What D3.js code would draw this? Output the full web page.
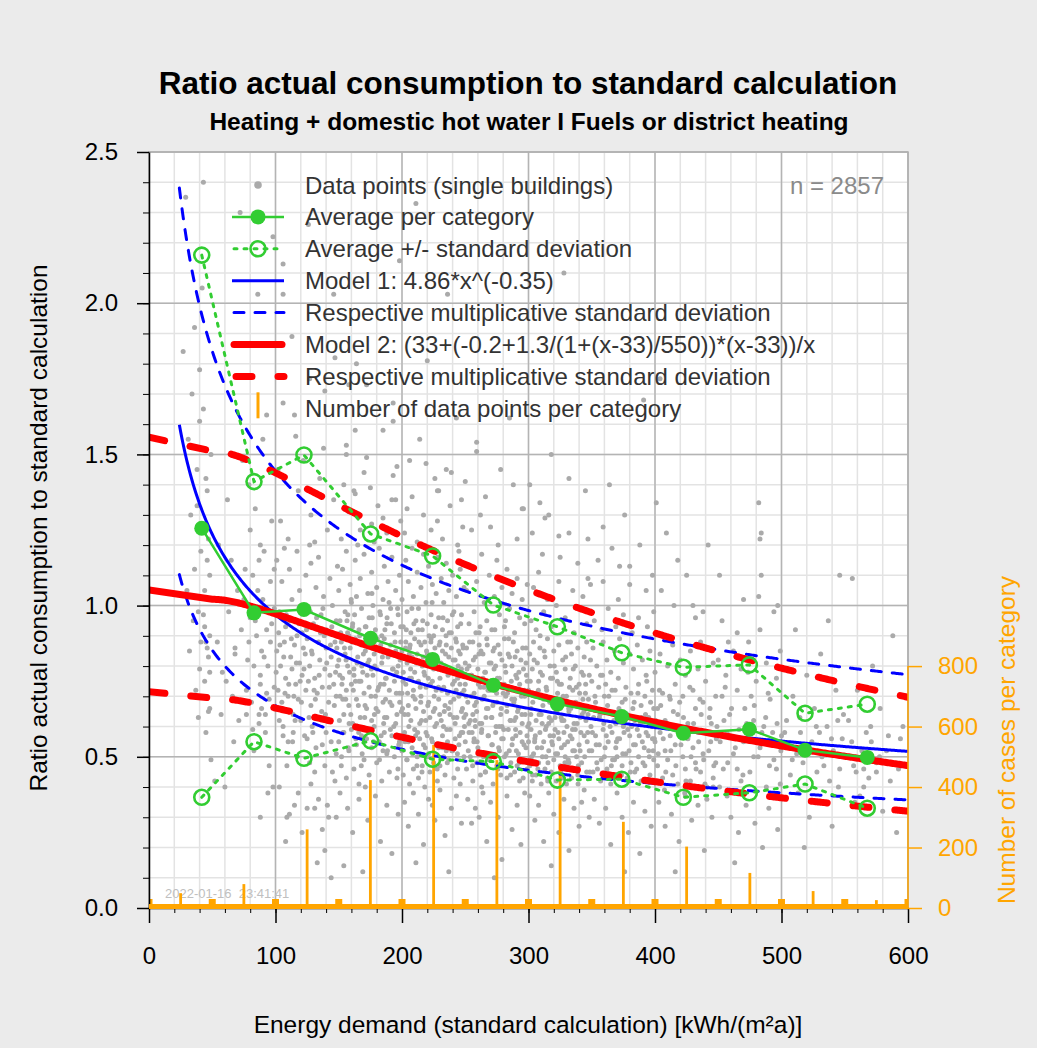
<!DOCTYPE html>
<html>
<head>
<meta charset="utf-8">
<script src="https://cdn.jsdelivr.net/npm/d3@7"></script>
<style>
body{margin:0;background:#fff}
text{font-family:"Liberation Sans",Arial,Helvetica,sans-serif}
</style>
</head>
<body>
<script>
// ---- data ----
var xTicks = [0,100,200,300,400,500,600];
var yTicks = [0,0.5,1,1.5,2,2.5];
var countTicks = [0,200,400,600,800];

// categories of 50 kWh/(m2a), bars at the category middle
var catBounds = [0,50,100,150,200,250,300,350,400,450,500,550,600];
var catMid = [25,75,125,175,225,275,325,375,425,475,525,575];
var catCount = [49,79,260,423,539,489,460,285,203,116,56,26];

// average per category (x = mean of category)
var avgX = [41.7,83,122.5,175.2,224.2,272.2,322.8,373.7,422.4,474.6,518.6,567.8];
var avgY = [1.256,0.976,0.987,0.892,0.822,0.737,0.675,0.633,0.578,0.591,0.522,0.498];
var sdUpY = [2.159,1.41,1.498,1.237,1.164,1.002,0.93,0.844,0.796,0.804,0.644,0.674];
var sdLoY = [0.366,0.55,0.495,0.553,0.492,0.484,0.423,0.426,0.366,0.381,0.41,0.33];

// model 1: a*x^b ; factors of the multiplicative sd band
var model1 = [4.86,-0.35];
var model1Band = [1.49,0.69];
// model 2: (c+(k1+k2/(1+(x-c)/s))*(x-c))/x ; left end value at x=0
var model2 = [33,-0.2,1.3,550];
var model2Band = [1.48,0.68];
var model2Left = [0,1.052];

var nLabel = "n = 2857";

// single buildings [energy demand, ratio]
var points = [
[27,1.84],[29,2.35],[43,2.40],[40,1.78],[43,1.65],[40,1.61],[44,0.93],[45,0.88],[46,0.86],[47,0.83],[48,0.90],[40,0.79],[48,0.66],[47,0.65],[39,0.63],[49,0.49],[33,1.30],[36,1.12],[38,1.45],[42,1.25],[44,1.05],[35,0.95],[31,1.55],[46,1.38],[41,1.18],[47,1.02],[37,0.72],[45,0.58],[32,0.85],[49,1.50],[42,2.05],[34,1.70],[47,1.22],[44,0.75],[30,1.05],[39,0.98],[48,1.10],[45,1.42],[41,0.88],[36,1.92],[46,1.15],[43,0.97],[48,0.78],[38,1.33],
[52,0.42],[57,0.64],[60,0.40],[63,0.98],[68,0.86],[68,0.84],[72,2.30],[55,1.20],[58,0.78],[62,1.35],[66,0.70],[70,1.05],[73,0.92],[54,0.88],[65,1.15],[71,0.62],[74,1.48],[59,1.02],[67,0.55],[61,0.75],[78,0.82],[77,0.72],[88,0.77],[88,0.74],[77,0.64],[87,0.64],[87,0.61],[92,0.64],[88,0.30],[94,0.38],[98,0.40],[95,0.47],[98,2.22],[86,2.03],[93,1.63],[80,1.25],[82,1.10],[84,0.95],[90,1.02],[96,0.88],[79,1.40],[91,1.18],[99,0.99],[83,0.52],[89,0.85],[93,0.92],[97,1.28],[81,0.68],[86,1.05],[94,0.80],[76,1.12],[90,1.55],[99,0.73],[85,0.90],[92,0.58],[80,0.96],[96,1.08],[88,1.20],[83,0.80],[95,0.69],[91,0.83],[84,1.32],[97,0.94],[79,0.88],[87,1.15],[93,0.71],[99,1.12],[82,0.59],[89,0.66],[75,1.02],
[109,0.30],[111,0.31],[115,0.34],[108,0.22],[125,0.33],[131,0.33],[133,0.15],[144,0.10],[137,0.26],[142,0.30],[145,0.45],[147,0.42],[141,0.34],[109,0.47],[123,0.57],[125,0.56],[137,0.54],[144,0.55],[106,0.57],[106,0.60],[112,0.65],[114,0.64],[106,2.13],[106,2.03],[126,2.26],[113,1.89],[127,1.75],[139,1.71],[106,1.67],[115,1.63],[146,2.03],[147,1.82],
[102,1.45],[118,1.38],[128,1.30],[135,1.42],[141,1.25],[110,1.22],[122,1.48],[131,1.21],[146,1.35],[104,1.28],[138,1.52],[116,1.56],
[101,1.15],[103,0.98],[105,1.08],[108,0.93],[111,1.12],[113,1.02],[116,0.95],[117,1.18],[119,1.05],[121,0.91],[124,1.10],[126,0.99],[128,1.14],[130,0.94],[132,1.06],[134,1.16],[136,0.97],[138,1.03],[140,0.92],[143,1.09],[145,1.00],[148,0.95],[149,1.13],[120,1.00],[107,1.19],[127,1.20],
[101,0.85],[102,0.72],[104,0.80],[105,0.68],[107,0.88],[108,0.76],[110,0.70],[112,0.83],[113,0.79],[115,0.87],[116,0.74],[118,0.69],[119,0.81],[121,0.77],[122,0.86],[124,0.72],[125,0.89],[127,0.80],[128,0.67],[129,0.84],[131,0.76],[133,0.71],[134,0.88],[135,0.82],[137,0.73],[139,0.79],[140,0.86],[142,0.68],[143,0.77],[144,0.83],[146,0.74],[147,0.88],[148,0.70],[149,0.80],[126,0.75],[117,0.90],
[103,0.62],[110,0.55],[117,0.50],[120,0.62],[127,0.48],[129,0.60],[132,0.53],[135,0.63],[139,0.47],[140,0.58],[143,0.62],[148,0.51],[114,0.58],[131,0.45],
[118,0.38],[121,0.25],[128,0.41],[134,0.36],[139,0.19],[148,0.30],[103,0.40],
[163,1.58],[185,1.58],[193,1.61],[156,1.53],[156,1.50],[164,1.80],[158,1.73],[172,1.73],[198,2.14],[172,1.49],[193,1.67],[196,1.46],[193,1.43],[185,1.29],[192,1.35],[195,1.35],[162,1.38],[163,1.37],[175,1.39],
[152,1.22],[158,1.31],[167,1.25],[170,1.44],[178,1.21],[181,1.33],[188,1.24],[199,1.28],[154,1.40],[176,1.27],
[150,1.05],[151,0.95],[153,1.12],[155,0.98],[156,1.18],[157,0.91],[159,1.07],[160,1.01],[161,0.94],[163,1.15],[164,1.03],[166,0.92],[167,1.09],[168,0.99],[170,1.17],[171,0.93],[173,1.04],[174,0.96],[176,1.11],[177,1.00],[179,0.92],[180,1.06],[182,1.19],[183,0.97],[185,1.02],[186,1.13],[188,0.94],[189,1.08],[191,0.99],[192,1.16],[194,0.91],[195,1.05],[197,0.97],[198,1.10],[199,0.93],[165,1.20],[184,0.90],
[150,0.82],[151,0.70],[152,0.88],[153,0.76],[154,0.64],[155,0.84],[156,0.72],[157,0.80],[158,0.67],[159,0.86],[160,0.74],[161,0.61],[162,0.79],[163,0.89],[164,0.69],[165,0.83],[166,0.75],[167,0.63],[168,0.87],[169,0.78],[170,0.71],[171,0.85],[172,0.66],[173,0.81],[174,0.73],[175,0.88],[176,0.62],[177,0.77],[178,0.84],[179,0.70],[180,0.79],[181,0.65],[182,0.86],[183,0.74],[184,0.81],[185,0.68],[186,0.89],[187,0.76],[188,0.63],[189,0.83],[190,0.72],[191,0.87],[192,0.67],[193,0.79],[194,0.75],[195,0.85],[196,0.64],[197,0.80],[198,0.71],[199,0.88],[162,0.77],[174,0.82],[187,0.69],[158,0.90],[195,0.61],
[150,0.55],[152,0.47],[154,0.58],[156,0.43],[158,0.52],[160,0.59],[162,0.46],[164,0.54],[166,0.41],[168,0.57],[170,0.49],[172,0.56],[174,0.44],[176,0.53],[178,0.60],[180,0.48],[182,0.55],[184,0.42],[186,0.58],[188,0.51],[190,0.45],[192,0.57],[194,0.50],[196,0.43],[198,0.55],[171,0.40],[185,0.52],
[151,0.38],[154,0.14],[157,0.33],[161,0.25],[166,0.36],[173,0.29],[179,0.37],[183,0.22],[188,0.34],[192,0.18],[197,0.31],[169,0.12],
[211,2.33],[236,2.03],[220,1.81],[206,1.48],[219,1.47],[235,1.45],[239,1.44],[250,1.41],[229,1.38],[228,1.38],[204,1.32],[228,1.28],[248,1.26],[214,1.55],[243,1.62],
[202,1.24],[208,1.36],[212,1.21],[217,1.30],[223,1.25],[232,1.22],[238,1.33],[244,1.20],[247,1.35],[226,1.42],
[200,1.02],[201,0.93],[203,1.15],[204,0.98],[205,1.08],[207,0.91],[208,1.19],[209,1.03],[211,0.95],[212,1.11],[213,0.99],[215,1.06],[216,0.92],[217,1.17],[219,1.01],[220,0.94],[221,1.13],[223,0.97],[224,1.07],[225,0.90],[227,1.04],[228,1.16],[229,0.96],[231,1.09],[232,0.92],[233,1.01],[235,1.14],[236,0.95],[237,1.05],[239,0.91],[240,1.10],[241,0.98],[243,1.03],[244,0.93],[246,1.12],[247,0.97],[249,1.06],[245,1.18],
[200,0.85],[200,0.71],[201,0.78],[202,0.64],[203,0.88],[203,0.74],[204,0.81],[205,0.67],[206,0.86],[206,0.76],[207,0.62],[208,0.83],[209,0.72],[210,0.89],[210,0.78],[211,0.66],[212,0.84],[213,0.75],[214,0.61],[215,0.87],[215,0.70],[216,0.80],[217,0.65],[218,0.88],[218,0.77],[219,0.73],[220,0.84],[221,0.68],[222,0.81],[222,0.63],[223,0.89],[224,0.75],[225,0.79],[226,0.66],[226,0.86],[227,0.72],[228,0.82],[229,0.69],[230,0.88],[230,0.76],[231,0.62],[232,0.85],[233,0.73],[234,0.80],[234,0.67],[235,0.87],[236,0.71],[237,0.83],[238,0.64],[238,0.78],[239,0.86],[240,0.74],[241,0.69],[242,0.82],[242,0.61],[243,0.88],[244,0.76],[245,0.70],[246,0.84],[247,0.65],[247,0.79],[248,0.87],[249,0.72],[249,0.63],[250,0.81],
[200,0.52],[201,0.44],[202,0.58],[204,0.49],[205,0.55],[206,0.41],[208,0.53],[209,0.46],[210,0.59],[212,0.50],[213,0.43],[214,0.56],[216,0.47],[217,0.54],[218,0.40],[220,0.57],[221,0.51],[222,0.45],[224,0.55],[225,0.48],[226,0.60],[228,0.42],[229,0.53],[230,0.47],[232,0.57],[233,0.50],[234,0.44],[236,0.55],[237,0.49],[238,0.59],[240,0.52],[241,0.43],[242,0.56],[244,0.46],[245,0.54],[246,0.41],[248,0.58],[249,0.50],[219,0.58],[235,0.52],
[202,0.35],[205,0.27],[209,0.38],[213,0.31],[217,0.21],[221,0.36],[226,0.29],[230,0.39],[234,0.24],[239,0.33],[243,0.37],[247,0.28],[211,0.15],[237,0.12],[224,0.34],
[259,1.54],[259,1.51],[266,1.36],[295,1.32],[270,1.26],[291,1.22],[296,1.32],[278,1.45],[285,1.62],[262,1.30],[288,1.40],[255,1.25],
[251,1.05],[253,0.94],[255,1.13],[257,0.98],[259,1.08],[261,0.91],[263,1.17],[265,1.01],[267,0.95],[269,1.10],[271,0.92],[273,1.03],[275,1.15],[277,0.97],[279,1.06],[281,0.93],[283,1.12],[285,0.99],[287,1.04],[289,0.91],[291,1.09],[293,0.96],[295,1.02],[297,0.94],[299,1.07],[276,1.20],
[250,0.74],[251,0.86],[252,0.68],[253,0.80],[254,0.62],[255,0.77],[256,0.88],[257,0.71],[258,0.83],[259,0.65],[260,0.79],[261,0.87],[262,0.73],[263,0.61],[264,0.84],[265,0.70],[266,0.78],[267,0.89],[268,0.66],[269,0.81],[270,0.75],[271,0.63],[272,0.85],[273,0.72],[274,0.80],[275,0.68],[276,0.87],[277,0.76],[278,0.64],[279,0.82],[280,0.71],[281,0.89],[282,0.78],[283,0.67],[284,0.84],[285,0.73],[286,0.62],[287,0.80],[288,0.88],[289,0.69],[290,0.77],[291,0.85],[292,0.66],[293,0.74],[294,0.82],[295,0.61],[296,0.79],[297,0.70],[298,0.86],[299,0.75],[256,0.64],[264,0.76],[273,0.86],[282,0.70],[290,0.63],[298,0.81],[268,0.72],[285,0.83],
[250,0.55],[251,0.46],[253,0.58],[254,0.50],[256,0.42],[257,0.56],[259,0.48],[260,0.53],[262,0.44],[263,0.59],[265,0.51],[266,0.45],[268,0.57],[269,0.49],[271,0.54],[272,0.41],[274,0.58],[275,0.47],[277,0.52],[278,0.44],[280,0.56],[281,0.50],[283,0.43],[284,0.59],[286,0.48],[287,0.54],[289,0.45],[290,0.57],[292,0.51],[293,0.42],[295,0.55],[296,0.49],[298,0.53],[299,0.46],[263,0.40],[279,0.60],[291,0.47],[258,0.60],
[252,0.36],[255,0.28],[258,0.33],[264,0.38],[267,0.22],[270,0.35],[276,0.30],[279,0.16],[283,0.37],[287,0.26],[291,0.34],[294,0.21],[297,0.38],[273,0.10],[261,0.30],
[328,2.10],[318,1.50],[332,1.42],[301,1.40],[345,1.38],[309,1.34],[313,1.29],[303,1.24],[332,1.24],[324,1.23],[347,1.22],[311,1.17],[325,1.16],[339,1.14],[308,1.11],[324,1.08],[349,1.07],[335,1.05],[304,1.06],[347,1.09],[316,1.30],
[302,0.95],[306,0.92],[312,0.98],[318,0.93],[322,1.00],[329,0.96],[336,0.91],[341,0.99],[346,0.94],[315,1.02],[343,1.03],
[300,0.72],[301,0.84],[302,0.66],[303,0.79],[304,0.88],[305,0.70],[306,0.62],[307,0.81],[308,0.75],[309,0.86],[310,0.64],[311,0.77],[312,0.69],[313,0.83],[314,0.73],[315,0.89],[316,0.61],[317,0.80],[318,0.68],[319,0.76],[320,0.85],[321,0.63],[322,0.78],[323,0.71],[324,0.87],[325,0.66],[326,0.74],[327,0.82],[328,0.62],[329,0.79],[330,0.70],[331,0.88],[332,0.65],[333,0.76],[334,0.84],[335,0.72],[336,0.61],[337,0.80],[338,0.67],[339,0.86],[340,0.74],[341,0.63],[342,0.78],[343,0.69],[344,0.83],[345,0.71],[346,0.88],[347,0.64],[348,0.77],[349,0.82],
[300,0.55],[301,0.47],[302,0.59],[303,0.42],[304,0.51],[305,0.56],[306,0.44],[307,0.53],[308,0.48],[309,0.58],[310,0.41],[311,0.50],[312,0.55],[313,0.46],[314,0.60],[315,0.43],[316,0.52],[317,0.57],[318,0.45],[319,0.54],[320,0.49],[321,0.59],[322,0.42],[323,0.51],[324,0.56],[325,0.47],[326,0.53],[327,0.44],[328,0.58],[329,0.50],[330,0.41],[331,0.55],[332,0.48],[333,0.57],[334,0.43],[335,0.52],[336,0.46],[337,0.59],[338,0.50],[339,0.44],[340,0.54],[342,0.48],[344,0.57],[346,0.45],[348,0.52],
[301,0.37],[305,0.29],[308,0.34],[312,0.22],[316,0.38],[320,0.31],[324,0.25],[328,0.36],[332,0.19],[336,0.33],[340,0.27],[344,0.39],[348,0.30],[318,0.14],[342,0.35],
[391,1.68],[359,1.26],[366,1.19],[388,1.20],[372,1.13],[380,1.13],[359,1.08],[380,1.07],[393,1.05],[355,1.15],[376,1.30],[398,1.10],[364,1.40],
[352,0.95],[358,0.92],[363,0.99],[369,0.93],[375,0.97],[382,0.91],[387,0.96],[394,0.93],[399,0.98],[371,1.02],
[350,0.75],[351,0.86],[353,0.68],[354,0.80],[356,0.63],[357,0.77],[359,0.88],[360,0.70],[362,0.82],[363,0.65],[365,0.78],[366,0.72],[368,0.85],[369,0.61],[371,0.76],[372,0.89],[374,0.68],[375,0.81],[377,0.73],[378,0.64],[380,0.84],[381,0.71],[383,0.79],[384,0.62],[386,0.87],[387,0.74],[389,0.67],[390,0.82],[392,0.70],[393,0.77],[395,0.63],[396,0.85],[398,0.72],[399,0.66],[361,0.74],
[350,0.52],[351,0.45],[353,0.57],[354,0.48],[356,0.54],[357,0.42],[359,0.59],[360,0.50],[362,0.46],[363,0.55],[365,0.41],[366,0.58],[368,0.49],[369,0.53],[371,0.44],[372,0.56],[374,0.47],[375,0.60],[377,0.51],[378,0.43],[380,0.57],[381,0.48],[383,0.54],[384,0.45],[386,0.59],[387,0.50],[389,0.42],[390,0.55],[392,0.47],[393,0.58],[395,0.52],[396,0.44],[398,0.56],[399,0.49],[370,0.50],
[352,0.36],[356,0.28],[361,0.33],[365,0.21],[370,0.38],[374,0.30],[379,0.25],[383,0.35],[388,0.18],[392,0.32],[397,0.27],[376,0.12],
[404,1.75],[401,1.34],[409,1.24],[418,1.15],[438,0.98],[432,0.96],[430,1.00],[415,1.00],[405,1.05],[425,1.10],[442,1.20],
[400,0.78],[402,0.66],[404,0.84],[406,0.71],[408,0.62],[410,0.80],[412,0.69],[414,0.87],[416,0.74],[418,0.64],[420,0.82],[422,0.70],[424,0.77],[426,0.61],[428,0.85],[430,0.72],[432,0.66],[434,0.79],[436,0.88],[438,0.68],[440,0.75],[443,0.63],[446,0.81],[448,0.70],
[400,0.55],[402,0.47],[404,0.58],[406,0.43],[408,0.52],[410,0.49],[412,0.57],[414,0.44],[416,0.54],[418,0.41],[420,0.59],[422,0.50],[424,0.46],[426,0.56],[428,0.42],[430,0.53],[432,0.48],[434,0.58],[436,0.45],[438,0.51],[441,0.40],[446,0.43],[444,0.55],[448,0.48],[449,0.60],
[441,0.36],[446,0.40],[403,0.35],[408,0.27],[413,0.31],[419,0.22],[424,0.37],[429,0.29],[434,0.34],[439,0.19],[445,0.30],[416,0.12],
[482,1.34],[484,1.24],[483,1.22],[484,1.10],[451,1.10],[482,1.03],[494,0.98],[453,0.95],[465,0.91],[483,0.92],[497,1.00],[470,1.02],
[450,0.82],[453,0.70],[456,0.77],[459,0.64],[462,0.85],[465,0.72],[468,0.79],[471,0.66],[474,0.88],[478,0.62],[486,0.60],[493,0.58],[500,0.57],[480,0.75],[488,0.81],[491,0.69],[496,0.76],[499,0.85],[458,0.88],[476,0.70],
[496,0.46],[499,0.41],[488,0.40],[475,0.45],[478,0.50],[494,0.49],[465,0.46],[462,0.51],[454,0.46],[451,0.40],[470,0.55],[483,0.53],[457,0.58],[468,0.42],
[457,0.37],[460,0.30],[466,0.25],[472,0.34],[479,0.28],[485,0.20],[490,0.33],[497,0.26],[463,0.15],
[503,0.53],[512,0.51],[532,0.50],[517,0.48],[541,0.52],[538,0.42],[546,0.46],[546,1.10],[504,0.62],[509,0.70],[515,0.58],[520,0.77],[526,0.66],[531,0.84],[536,0.60],[543,0.72],[548,0.56],[507,0.44],[513,0.38],[522,0.30],[528,0.45],[534,0.35],[540,0.27],[545,0.40],[511,0.92],[524,0.55],[537,0.95],[549,0.64],[518,0.20],[530,0.58],
[557,0.47],[565,0.46],[559,0.45],[569,0.43],[565,0.40],[575,0.48],[575,0.45],[562,0.37],[558,0.35],[556,1.09],[553,0.62],[560,0.72],[567,0.58],[572,0.80],[578,0.66],[583,0.52],[588,0.90],[594,0.56],[598,0.70],[580,0.32],[586,0.42],[591,0.25],[596,0.60],[571,0.55],
// dense core of the cloud
[100.5,0.78],[102.5,0.91],[104.5,0.66],[106.5,0.83],[108.5,0.97],[110.5,0.74],[112.5,0.89],[114.5,0.70],[116.5,0.81],[118.5,0.94],[120.5,0.68],[122.5,0.79],[124.5,0.92],[126.5,0.63],[128.5,0.85],[130.5,0.72],[132.5,0.96],[134.5,0.77],[136.5,0.65],[138.5,0.90],[140.5,0.81],[142.5,0.73],[144.5,0.93],[146.5,0.67],[148.5,0.86],[103.5,0.87],[107.5,0.71],[111.5,0.95],[115.5,0.62],[119.5,0.75],[123.5,0.84],[127.5,0.98],[131.5,0.69],[135.5,0.91],[139.5,0.64],[143.5,0.87],[147.5,0.78],[129.5,0.58],[113.5,0.55],[137.5,0.99],
[150.5,0.62],[151.5,0.91],[152.5,0.74],[153.5,0.58],[154.5,0.86],[155.5,0.69],[156.5,0.95],[157.5,0.53],[158.5,0.78],[159.5,0.64],[160.5,0.88],[161.5,0.72],[162.5,0.97],[163.5,0.56],[164.5,0.81],[165.5,0.67],[166.5,0.90],[167.5,0.75],[168.5,0.51],[169.5,0.84],[170.5,0.63],[171.5,0.93],[172.5,0.77],[173.5,0.59],[174.5,0.87],[175.5,0.70],[176.5,0.96],[177.5,0.55],[178.5,0.80],[179.5,0.66],[180.5,0.89],[181.5,0.73],[182.5,0.98],[183.5,0.57],[184.5,0.83],[185.5,0.61],[186.5,0.92],[187.5,0.76],[188.5,0.52],[189.5,0.85],[190.5,0.68],[191.5,0.94],[192.5,0.79],[193.5,0.60],[194.5,0.88],[195.5,0.71],[196.5,0.99],[197.5,0.54],[198.5,0.82],[199.5,0.65],
[150.8,0.77],[153.2,0.69],[155.8,0.82],[158.2,0.61],[160.8,0.93],[163.2,0.75],[165.8,0.58],[168.2,0.80],[170.8,0.67],[173.2,0.90],[175.8,0.79],[178.2,0.64],[180.8,0.72],[183.2,0.87],[185.8,0.74],[188.2,0.96],[190.8,0.59],[193.2,0.84],[195.8,0.78],[198.2,0.68],[152.2,0.50],[167.8,0.47],[182.2,0.49],[196.8,0.46],[159.8,1.02],[176.2,1.04],[189.8,1.01],[171.2,0.56],[186.2,0.63],[157.2,0.97],
[200.4,0.66],[201.4,0.83],[202.4,0.55],[203.4,0.92],[204.4,0.71],[205.4,0.60],[206.4,0.87],[207.4,0.76],[208.4,0.51],[209.4,0.94],[210.4,0.69],[211.4,0.81],[212.4,0.58],[213.4,0.88],[214.4,0.73],[215.4,0.62],[216.4,0.95],[217.4,0.78],[218.4,0.53],[219.4,0.85],[220.4,0.67],[221.4,0.90],[222.4,0.74],[223.4,0.56],[224.4,0.83],[225.4,0.70],[226.4,0.93],[227.4,0.61],[228.4,0.79],[229.4,0.87],[230.4,0.54],[231.4,0.72],[232.4,0.96],[233.4,0.65],[234.4,0.84],[235.4,0.59],[236.4,0.77],[237.4,0.91],[238.4,0.68],[239.4,0.52],[240.4,0.82],[241.4,0.75],[242.4,0.89],[243.4,0.63],[244.4,0.80],[245.4,0.57],[246.4,0.94],[247.4,0.71],[248.4,0.86],[249.4,0.60],
[200.8,0.75],[202.8,0.86],[204.8,0.64],[206.8,0.79],[208.8,0.70],[210.8,0.57],[212.8,0.92],[214.8,0.68],[216.8,0.83],[218.8,0.62],[220.8,0.76],[222.8,0.88],[224.8,0.65],[226.8,0.54],[228.8,0.73],[230.8,0.81],[232.8,0.60],[234.8,0.90],[236.8,0.66],[238.8,0.78],[240.8,0.63],[242.8,0.72],[244.8,0.85],[246.8,0.58],[248.8,0.77],[203.8,0.49],[211.8,0.47],[219.8,0.50],[227.8,0.46],[235.8,0.48],[243.8,0.51],[207.8,0.99],[223.8,1.01],[239.8,0.97],[215.8,0.45],[231.8,0.53],[247.8,0.66],[205.8,0.84],[229.8,0.64],[245.8,0.74],
[250.4,0.64],[251.4,0.79],[252.4,0.52],[253.4,0.88],[254.4,0.70],[255.4,0.58],[256.4,0.82],[257.4,0.67],[258.4,0.91],[259.4,0.55],[260.4,0.74],[261.4,0.61],[262.4,0.85],[263.4,0.69],[264.4,0.50],[265.4,0.78],[266.4,0.63],[267.4,0.87],[268.4,0.57],[269.4,0.72],[270.4,0.81],[271.4,0.54],[272.4,0.68],[273.4,0.92],[274.4,0.60],[275.4,0.76],[276.4,0.53],[277.4,0.84],[278.4,0.66],[279.4,0.73],[280.4,0.59],[281.4,0.80],[282.4,0.51],[283.4,0.71],[284.4,0.89],[285.4,0.62],[286.4,0.75],[287.4,0.56],[288.4,0.68],[289.4,0.83],[290.4,0.52],[291.4,0.65],[292.4,0.78],[293.4,0.58],[294.4,0.70],[295.4,0.86],[296.4,0.54],[297.4,0.64],[298.4,0.77],[299.4,0.60],
[250.8,0.70],[252.8,0.61],[254.8,0.77],[256.8,0.55],[258.8,0.68],[260.8,0.84],[262.8,0.58],[264.8,0.73],[266.8,0.66],[268.8,0.49],[270.8,0.63],[272.8,0.79],[274.8,0.71],[276.8,0.60],[278.8,0.56],[280.8,0.74],[282.8,0.65],[284.8,0.52],[286.8,0.69],[288.8,0.62],[290.8,0.76],[292.8,0.48],[294.8,0.64],[296.8,0.72],[298.8,0.57],[255.8,0.47],[265.8,0.45],[275.8,0.46],[285.8,0.44],[295.8,0.43],[261.8,0.93],[281.8,0.95],[271.8,0.67],[289.8,0.59],[257.8,0.62],
[300.4,0.61],[301.4,0.75],[302.4,0.50],[303.4,0.68],[304.4,0.82],[305.4,0.57],[306.4,0.71],[307.4,0.46],[308.4,0.64],[309.4,0.78],[310.4,0.53],[311.4,0.67],[312.4,0.85],[313.4,0.59],[314.4,0.72],[315.4,0.48],[316.4,0.63],[317.4,0.76],[318.4,0.55],[319.4,0.69],[320.4,0.80],[321.4,0.51],[322.4,0.65],[323.4,0.58],[324.4,0.74],[325.4,0.45],[326.4,0.62],[327.4,0.70],[328.4,0.54],[329.4,0.83],[330.4,0.60],[331.4,0.49],[332.4,0.73],[333.4,0.66],[334.4,0.56],[335.4,0.79],[336.4,0.52],[337.4,0.68],[338.4,0.61],[339.4,0.47],[340.4,0.71],[341.4,0.58],[342.4,0.64],[343.4,0.77],[344.4,0.50],[345.4,0.62],[346.4,0.55],[347.4,0.69],[348.4,0.45],[349.4,0.60],
[301.8,0.64],[304.8,0.55],[307.8,0.72],[310.8,0.61],[313.8,0.50],[316.8,0.68],[319.8,0.57],[322.8,0.75],[325.8,0.63],[328.8,0.48],[331.8,0.66],[334.8,0.59],[337.8,0.73],[340.8,0.52],[343.8,0.65],[346.8,0.58],[303.2,0.44],[315.2,0.42],[327.2,0.43],[339.2,0.41],[309.2,0.90],[333.2,0.88],[321.2,0.67],[345.2,0.74],[318.2,0.62],
[350.5,0.58],[352.5,0.70],[354.5,0.46],[356.5,0.64],[358.5,0.77],[360.5,0.53],[362.5,0.67],[364.5,0.60],[366.5,0.49],[368.5,0.72],[370.5,0.56],[372.5,0.63],[374.5,0.51],[376.5,0.69],[378.5,0.59],[380.5,0.45],[382.5,0.66],[384.5,0.54],[386.5,0.71],[388.5,0.61],[390.5,0.48],[392.5,0.64],[394.5,0.57],[396.5,0.68],[398.5,0.52],
[351.5,0.63],[353.5,0.54],[355.5,0.73],[357.5,0.49],[359.5,0.61],[361.5,0.57],[363.5,0.70],[365.5,0.47],[367.5,0.62],[369.5,0.55],[371.5,0.66],[373.5,0.44],[375.5,0.58],[377.5,0.64],[379.5,0.52],[381.5,0.60],[383.5,0.68],[385.5,0.46],[387.5,0.57],[389.5,0.63],[391.5,0.53],[393.5,0.75],[395.5,0.50],[397.5,0.60],[399.5,0.56],
[400.5,0.62],[402.5,0.51],[404.5,0.67],[406.5,0.56],[408.5,0.45],[410.5,0.60],[412.5,0.52],[414.5,0.65],[416.5,0.47],[418.5,0.58],[420.5,0.54],[422.5,0.63],[424.5,0.42],[426.5,0.57],[428.5,0.50],[430.5,0.61],[432.5,0.46],[434.5,0.55],[436.5,0.64],[438.5,0.49],[440.5,0.58],[442.5,0.52],[444.5,0.61],[446.5,0.47],[448.5,0.56],
[403.5,0.72],[411.5,0.70],[419.5,0.68],[427.5,0.73],[435.5,0.69],[443.5,0.66],[407.5,0.39],[423.5,0.38],[439.5,0.41],[415.5,0.60],
[451.5,0.55],[454.5,0.62],[457.5,0.48],[460.5,0.66],[463.5,0.53],[466.5,0.59],[469.5,0.44],[472.5,0.61],[475.5,0.55],[478.5,0.67],[481.5,0.50],[484.5,0.58],[487.5,0.63],[490.5,0.47],[493.5,0.54],[496.5,0.61],[499.5,0.52],[455.5,0.73],[473.5,0.78],[489.5,0.71],
[502.5,0.58],[508.5,0.49],[514.5,0.63],[521.5,0.54],[527.5,0.60],[533.5,0.47],[539.5,0.56],[544.5,0.62],[549.5,0.50],[555.5,0.55],[563.5,0.52],[570.5,0.60],[577.5,0.50],[584.5,0.57],[592.5,0.46]
];

var legendItems = [
  "Data points (single buildings)",
  "Average per category",
  "Average +/- standard deviation",
  "Model 1: 4.86*x^(-0.35)",
  "Respective multiplicative standard deviation",
  "Model 2: (33+(-0.2+1.3/(1+(x-33)/550))*(x-33))/x",
  "Respective multiplicative standard deviation",
  "Number of data points per category"
];

// ---- drawing ----
var width = 1037, height = 1048;
var pL = 149, pR = 908, pT = 152, pB = 908;
var GREEN = "#32cd32", BLUE = "#0000ff", RED = "#ff0000", ORANGE = "#ffa500", GREY = "#aaaaaa";
var DOTS = "3,7";

var svg = d3.select("body").append("svg").attr("width", width).attr("height", height);

svg.append("rect").attr("width", width).attr("height", height).attr("fill", "#ebebeb");
svg.append("rect").attr("x", pL).attr("y", pT).attr("width", pR-pL).attr("height", pB-pT).attr("fill", "#fff");

var x = d3.scaleLinear().domain([0,600]).range([pL,pR]);
var y = d3.scaleLinear().domain([0,2.5]).range([pB,pT]);
var yc = d3.scaleLinear().domain([0,2500]).range([pB,pT]);

svg.append("defs").append("clipPath").attr("id","plotclip")
  .append("rect").attr("x", pL).attr("y", pT).attr("width", pR-pL).attr("height", pB-pT);

// grid
var grid = svg.append("g");
grid.selectAll(".vminor").data(d3.range(0,601,20)).enter().append("line")
  .attr("x1", d=>x(d)).attr("x2", d=>x(d)).attr("y1", pT).attr("y2", pB)
  .attr("stroke", "#e3e3e3").attr("stroke-width", 1.5);
grid.selectAll(".hminor").data(d3.range(0,25.1,1).map(d=>d/10)).enter().append("line")
  .attr("x1", pL).attr("x2", pR).attr("y1", d=>y(d)).attr("y2", d=>y(d))
  .attr("stroke", "#e3e3e3").attr("stroke-width", 1.5);
grid.selectAll(".vmajor").data(xTicks).enter().append("line")
  .attr("x1", d=>x(d)).attr("x2", d=>x(d)).attr("y1", pT).attr("y2", pB)
  .attr("stroke", "#b4b4b4").attr("stroke-width", 1.5);
grid.selectAll(".hmajor").data(yTicks).enter().append("line")
  .attr("x1", pL).attr("x2", pR).attr("y1", d=>y(d)).attr("y2", d=>y(d))
  .attr("stroke", "#b4b4b4").attr("stroke-width", 1.5);
svg.append("rect").attr("x", pL).attr("y", pT).attr("width", pR-pL).attr("height", pB-pT)
  .attr("fill", "none").attr("stroke", "#b0b0b0").attr("stroke-width", 1.5);

// timestamp
svg.append("text").attr("x", 165).attr("y", 898).attr("font-size", 13).attr("fill", "#c0c0c0")
  .attr("xml:space","preserve").text("2022-01-16  23:41:41");

var plot = svg.append("g").attr("clip-path", "url(#plotclip)");

// scatter
plot.append("g").selectAll("circle").data(points).enter().append("circle")
  .attr("cx", d=>x(d[0])).attr("cy", d=>y(d[1])).attr("r", 2.5).attr("fill", GREY);

// counts per category
plot.append("g").selectAll("rect").data(catMid).enter().append("rect")
  .attr("x", (d)=>x(d)-1.4).attr("width", 2.8)
  .attr("y", (d,i)=>yc(catCount[i])).attr("height", (d,i)=>yc(0)-yc(catCount[i]))
  .attr("fill", ORANGE);
plot.append("g").selectAll("rect").data(catBounds).enter().append("rect")
  .attr("x", d=>x(d)-3.5).attr("width", 7).attr("y", yc(0)-9).attr("height", 7).attr("fill", ORANGE);

// models
function m1(v){ return model1[0]*Math.pow(v, model1[1]); }
function m2(v){ var c=model2[0]; return (c+(model2[1]+model2[2]/(1+(v-c)/model2[3]))*(v-c))/v; }
var line = d3.line().x(d=>x(d[0])).y(d=>y(d[1]));
var xs1 = d3.range(24, 600.5, 1);
var xs2 = d3.range(50, 600.5, 1);
var c1 = xs1.map(v=>[v, m1(v)]);
var c2 = [model2Left].concat(xs2.map(v=>[v, m2(v)]));

function band(c, f){ return c.map(p=>[p[0], p[1]*f]); }

plot.append("path").attr("d", line(band(c1, model1Band[0]))).attr("fill","none").attr("stroke",BLUE)
  .attr("stroke-width",3).attr("stroke-dasharray","10,11").attr("stroke-linecap","round");
plot.append("path").attr("d", line(band(c1, model1Band[1]))).attr("fill","none").attr("stroke",BLUE)
  .attr("stroke-width",3).attr("stroke-dasharray","10,11").attr("stroke-linecap","round");
plot.append("path").attr("d", line(c1)).attr("fill","none").attr("stroke",BLUE).attr("stroke-width",3);

plot.append("path").attr("d", line(band(c2, model2Band[0]))).attr("fill","none").attr("stroke",RED)
  .attr("stroke-width",7).attr("stroke-dasharray","16,26").attr("stroke-linecap","round");
plot.append("path").attr("d", line(band(c2, model2Band[1]))).attr("fill","none").attr("stroke",RED)
  .attr("stroke-width",7).attr("stroke-dasharray","16,26").attr("stroke-linecap","round");
plot.append("path").attr("d", line(c2)).attr("fill","none").attr("stroke",RED).attr("stroke-width",7)
  .attr("stroke-linecap","round");

// averages
var avg = avgX.map((v,i)=>[v, avgY[i]]);
var up = avgX.map((v,i)=>[v, sdUpY[i]]);
var lo = avgX.map((v,i)=>[v, sdLoY[i]]);
[up, lo].forEach(function(s){
  plot.append("path").attr("d", line(s)).attr("fill","none").attr("stroke",GREEN)
    .attr("stroke-width",3).attr("stroke-dasharray",DOTS).attr("stroke-linecap","round");
  plot.append("g").selectAll("circle").data(s).enter().append("circle")
    .attr("cx", d=>x(d[0])).attr("cy", d=>y(d[1])).attr("r", 7.5)
    .attr("fill","none").attr("stroke",GREEN).attr("stroke-width",2.6);
});
plot.append("path").attr("d", line(avg)).attr("fill","none").attr("stroke",GREEN).attr("stroke-width",2.5);
plot.append("g").selectAll("circle").data(avg).enter().append("circle")
  .attr("cx", d=>x(d[0])).attr("cy", d=>y(d[1])).attr("r", 7.5).attr("fill",GREEN);

// axes
var axL = svg.append("g").attr("transform","translate("+pL+",0)")
  .call(d3.axisLeft(y).tickValues(yTicks).tickFormat(d3.format(".1f")).tickSize(12).tickSizeOuter(0).tickPadding(19));
svg.append("g").attr("transform","translate("+pL+",0)")
  .call(d3.axisLeft(y).tickValues(d3.range(0,26,1).map(d=>d/10)).tickFormat("").tickSize(6).tickSizeOuter(0))
  .select(".domain").remove();
var axB = svg.append("g").attr("transform","translate(0,"+pB+")")
  .call(d3.axisBottom(x).tickValues(xTicks).tickSize(15).tickSizeOuter(0).tickPadding(24));
svg.append("g").attr("transform","translate(0,"+pB+")")
  .call(d3.axisBottom(x).tickValues(d3.range(0,601,20)).tickFormat("").tickSize(5).tickSizeOuter(0))
  .select(".domain").remove();
[axL, axB].forEach(function(a){
  a.selectAll("text").attr("font-size", 24).attr("fill","#000").attr("font-family",null);
  a.selectAll("line,path").attr("stroke","#000").attr("stroke-width",1.5);
});
// orange baseline over the black axis line
svg.append("rect").attr("x", pL).attr("width", pR-pL).attr("y", yc(0)-4).attr("height", 5).attr("fill", ORANGE);

var axR = svg.append("g").attr("transform","translate("+pR+",0)")
  .call(d3.axisRight(yc).tickValues(countTicks).tickSize(14).tickSizeOuter(0).tickPadding(16));
axR.select(".domain").remove();
axR.append("line").attr("x1",0).attr("x2",0).attr("y1",yc(0)).attr("y2",yc(800)).attr("stroke",ORANGE).attr("stroke-width",1.5);
axR.selectAll(".tick line").attr("stroke",ORANGE).attr("stroke-width",1.5);
axR.selectAll("text").attr("font-size",24).attr("fill",ORANGE).attr("font-family",null);

// titles
svg.append("text").attr("x", 528).attr("y", 94).attr("text-anchor","middle").attr("font-size",31.5)
  .attr("font-weight","bold").attr("fill","#000").text("Ratio actual consumption to standard calculation");
svg.append("text").attr("x", 529).attr("y", 130).attr("text-anchor","middle").attr("font-size",24.5)
  .attr("font-weight","bold").attr("fill","#000").text("Heating + domestic hot water I Fuels or district heating");
svg.append("text").attr("x", 528).attr("y", 1033).attr("text-anchor","middle").attr("font-size",24.5)
  .attr("fill","#000").text("Energy demand (standard calculation) [kWh/(m²a)]");
svg.append("text").attr("transform","translate(47,528) rotate(-90)").attr("text-anchor","middle")
  .attr("font-size",24.5).attr("fill","#000").text("Ratio actual consumption to standard calculation");
svg.append("text").attr("transform","translate(1015,740) rotate(-90)").attr("text-anchor","middle")
  .attr("font-size",24.5).attr("fill",ORANGE).text("Number of cases per category");

// legend
var lg = svg.append("g");
var rowY = d3.range(legendItems.length).map(i=>185 + i*31.9);
lg.selectAll("text").data(legendItems).enter().append("text")
  .attr("x", 305).attr("y", (d,i)=>rowY[i]+8.5).attr("font-size",24).attr("fill","#333").text(d=>d);
lg.append("text").attr("x", 884).attr("y", rowY[0]+8.5).attr("text-anchor","end").attr("font-size",24)
  .attr("fill","#8a8a8a").text(nLabel);
var sx0 = 232, sx1 = 284, sxm = 258;
lg.append("circle").attr("cx", sxm).attr("cy", rowY[0]).attr("r", 3.8).attr("fill", GREY);
lg.append("line").attr("x1",sx0).attr("x2",sx1).attr("y1",rowY[1]).attr("y2",rowY[1]).attr("stroke",GREEN).attr("stroke-width",2.5);
lg.append("circle").attr("cx", sxm).attr("cy", rowY[1]).attr("r", 7.5).attr("fill", GREEN);
lg.append("line").attr("x1",sx0+2).attr("x2",sx1).attr("y1",rowY[2]).attr("y2",rowY[2]).attr("stroke",GREEN)
  .attr("stroke-width",3).attr("stroke-dasharray",DOTS).attr("stroke-linecap","round");
lg.append("circle").attr("cx", sxm).attr("cy", rowY[2]).attr("r", 7.5).attr("fill","none").attr("stroke",GREEN).attr("stroke-width",2.6);
lg.append("line").attr("x1",sx0).attr("x2",sx1).attr("y1",rowY[3]).attr("y2",rowY[3]).attr("stroke",BLUE).attr("stroke-width",3);
lg.append("line").attr("x1",sx0+2).attr("x2",sx1).attr("y1",rowY[4]).attr("y2",rowY[4]).attr("stroke",BLUE)
  .attr("stroke-width",3).attr("stroke-dasharray","10,11").attr("stroke-linecap","round");
lg.append("line").attr("x1",sx0+2).attr("x2",sx1-2).attr("y1",rowY[5]).attr("y2",rowY[5]).attr("stroke",RED)
  .attr("stroke-width",7).attr("stroke-linecap","round");
lg.append("line").attr("x1",sx0+4).attr("x2",sx1).attr("y1",rowY[6]).attr("y2",rowY[6]).attr("stroke",RED)
  .attr("stroke-width",7).attr("stroke-dasharray","16,26").attr("stroke-linecap","round");
lg.append("line").attr("x1",sxm).attr("x2",sxm).attr("y1",rowY[7]-16).attr("y2",rowY[7]+10).attr("stroke",ORANGE).attr("stroke-width",3);
</script>
</body>
</html>
